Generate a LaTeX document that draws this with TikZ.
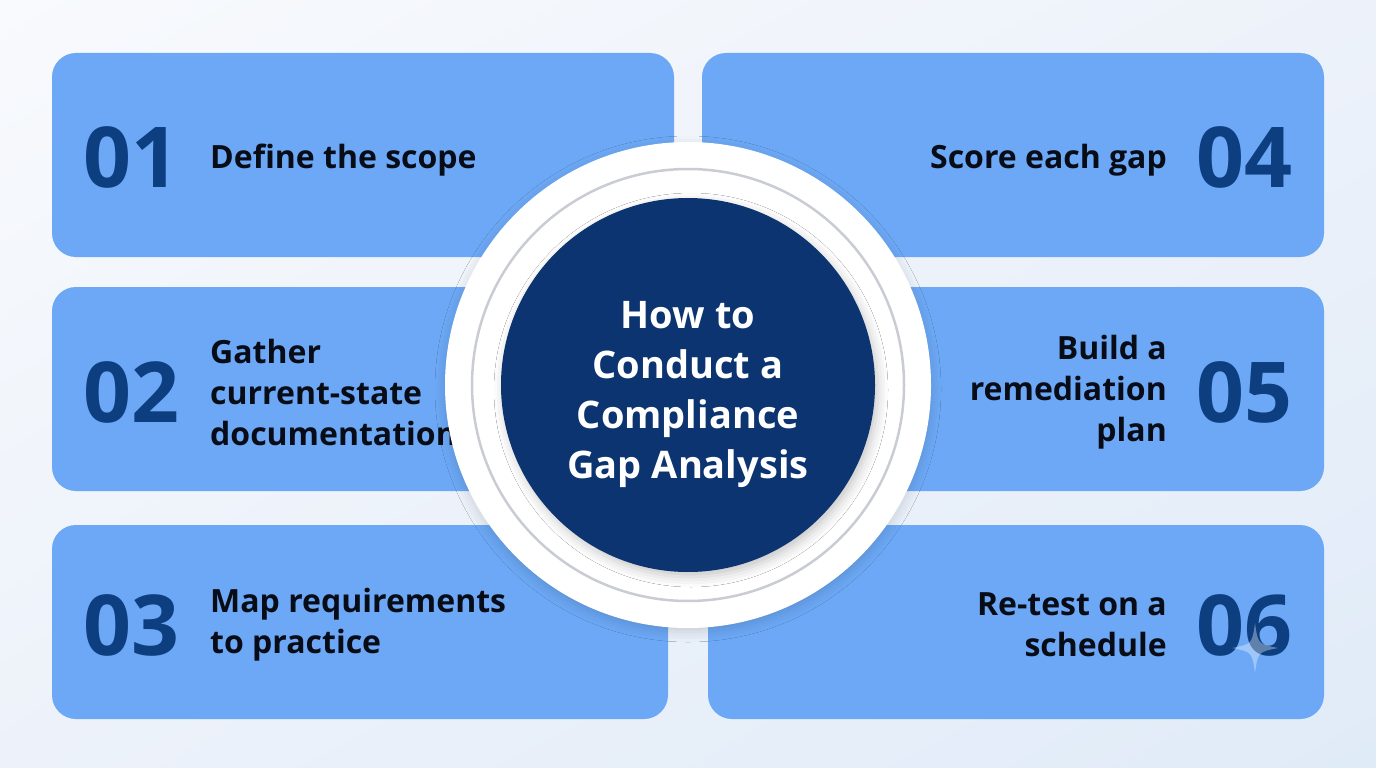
\documentclass[tikz,border=0pt]{standalone}
\usepackage{fontspec}
\setmainfont{Open Sans}
\usetikzlibrary{shadows.blur,shadings,calc}
\definecolor{bgA}{HTML}{F8FAFD}
\definecolor{bgB}{HTML}{EDF2FA}
\definecolor{bgC}{HTML}{E0EBF8}
\definecolor{boxblue}{HTML}{6CA8F5}
\definecolor{numblue}{HTML}{0C3E80}
\definecolor{navy}{HTML}{0B3470}
\definecolor{ringgray}{HTML}{C9CDD3}
\definecolor{txt}{HTML}{080C16}
\tikzset{
  stepbox/.style={fill=boxblue, draw=none, rounded corners=24, inner sep=0},
  num/.style={text=numblue, inner sep=0, font=\bfseries\fontsize{84}{84}\selectfont},
  lbl/.style={text=txt, inner sep=0, font=\bfseries\fontsize{32}{41}\selectfont},
}
\begin{document}
\begin{tikzpicture}[x=1pt,y=-1pt]
\useasboundingbox (0,0) rectangle (1376,768);
\shade[upper left=bgA, upper right=bgB, lower left=bgB, lower right=bgC] (0,0) rectangle (1376,768);

% boxes
\node[stepbox, minimum width=622, minimum height=204] (b1) at (363,155) {};
\node[stepbox, minimum width=622, minimum height=204] (b4) at (1013,155) {};
\node[stepbox, minimum width=618, minimum height=204] (b2) at (361,389) {};
\node[stepbox, minimum width=618, minimum height=204] (b5) at (1015,389) {};
\node[stepbox, minimum width=616, minimum height=194] (b3) at (360,622) {};
\node[stepbox, minimum width=616, minimum height=194] (b6) at (1016,622) {};

% numbers
\node[num, anchor=west] (n1) at (83,157) {01};
\node[num, anchor=west] (n2) at (83,392) {02};
\node[num, anchor=west] (n3) at (83,625) {03};
\node[num, anchor=east] (n4) at (1293,157) {04};
\node[num, anchor=east] (n5) at (1293,392) {05};
\node[num, anchor=east] (n6) at (1293,625) {06};

% labels
\node[lbl, anchor=west, align=left] (t1) at (210,160) {Define the scope};
\node[lbl, anchor=west, align=left] (t2) at (210,392) {Gather\\current-state\\documentation};
\node[lbl, anchor=west, align=left] (t3) at (210,625) {Map requirements\\to practice};
\node[lbl, anchor=east, align=right] (t4) at (1167,160) {Score each gap};
\node[lbl, anchor=east, align=right] (t5) at (1167,392) {Build a\\remediation\\plan};
\node[lbl, anchor=east, align=right] (t6) at (1167,625) {Re-test on a\\schedule};

% central circle
\node[circle, fill=white, draw=none, minimum size=486, inner sep=0,
  blur shadow={shadow xshift=0pt, shadow yshift=-4pt, shadow blur radius=10pt, shadow opacity=14}] (outer) at (688,385) {};
\draw[ringgray, line width=2.5] (outer.center) circle[radius=216];
\node[circle, fill=navy, draw=none, minimum size=374, inner sep=0,
  blur shadow={shadow xshift=3pt, shadow yshift=-5pt, shadow blur radius=10pt, shadow opacity=22}] (core) at (688,385) {};
\node[text=white, inner sep=0, align=center, font=\bfseries\fontsize{38}{50}\selectfont] (title) at (688,394) {How to\\Conduct a\\Compliance\\Gap Analysis};

% faint sparkle mark
\coordinate (sp) at (1255,648);
\fill[white, opacity=0.35] ($(sp)+(0,-25)$) .. controls ($(sp)+(3,-4)$) .. ($(sp)+(23,0)$) .. controls ($(sp)+(3,4)$) .. ($(sp)+(0,25)$) .. controls ($(sp)+(-3,4)$) .. ($(sp)+(-23,0)$) .. controls ($(sp)+(-3,-4)$) .. cycle;
\end{tikzpicture}
\end{document}
